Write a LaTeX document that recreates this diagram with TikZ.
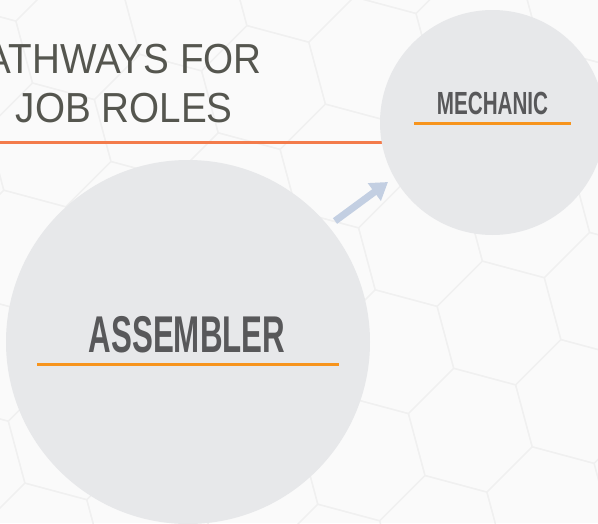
\documentclass[tikz,border=0pt]{standalone}
\usepackage{fontspec}
\setmainfont{Liberation Sans}
\newfontfamily\titlefont[FakeStretch=0.92]{Liberation Sans}
\newfontfamily\mechfont[FakeStretch=0.645]{Liberation Sans Bold}
\newfontfamily\asmfont[FakeStretch=0.605]{Liberation Sans Bold}
\usetikzlibrary{arrows.meta}
\definecolor{bgc}{HTML}{FAFAFA}
\definecolor{hexc}{HTML}{F0F0F0}
\definecolor{circc}{HTML}{E7E8EA}
\definecolor{txtc}{HTML}{58585A}
\definecolor{titc}{HTML}{55564F}
\definecolor{lineor}{HTML}{F37B4B}
\definecolor{undor}{HTML}{F7941D}
\definecolor{arrc}{HTML}{C3CFE2}
\begin{document}
\begin{tikzpicture}[x=1pt,y=-1pt,
  hexline/.style={draw=hexc, line width=1.2pt, line join=round},
  role/.style={circle, fill=circc, inner sep=0pt, outer sep=0pt},
  underline/.style={draw=undor, line width=3pt},
  titleline/.style={draw=lineor, line width=3pt},
  titletext/.style={anchor=base east, inner sep=0pt, text=titc, font=\titlefont\fontsize{42}{42}\selectfont},
  pathway/.style={draw=arrc, line width=7pt, -{Triangle[length=17pt,width=21pt]}}]
\useasboundingbox (0,0) rectangle (598,523);
\begin{scope}
  \clip (0,0) rectangle (598,523);
  \fill[bgc] (0,0) rectangle (598,523);
  \foreach \i in {-6,...,6}{
    \foreach \j in {-6,...,6}{
      \pgfmathsetmacro\cx{499+78.5*\i-28.7*\j}
      \pgfmathsetmacro\cy{323+78.5*\i+107.2*\j}
      \draw[hexline] ([shift={(\cx,\cy)}]15:64) -- ([shift={(\cx,\cy)}]75:64)
        -- ([shift={(\cx,\cy)}]135:64) -- ([shift={(\cx,\cy)}]195:64)
        -- ([shift={(\cx,\cy)}]255:64) -- ([shift={(\cx,\cy)}]315:64) -- cycle;
    }
  }
  % title
  \node[titletext] (t1) at (262,73) {ATHWAYS FOR};
  \node[titletext] (t2) at (233,122) {JOB ROLES};
  \coordinate (tl0) at (-5,142.5);
  \coordinate (tl1) at (400,142.5);
  \draw[titleline] (tl0) -- (tl1);
  % circles
  \node[role, minimum size=225pt] (mech) at (492.5,122.5) {};
  \node[role, minimum size=364pt] (asm) at (188,342) {};
  % labels
  \node[anchor=base, inner sep=0pt, text=txtc, font=\mechfont\fontsize{32}{32}\selectfont] (mechtxt) at (492.5,114) {MECHANIC};
  \draw[underline] (414,123) -- (571,123);
  \node[anchor=base, inner sep=0pt, text=txtc, font=\asmfont\fontsize{51.7}{52}\selectfont] (asmtxt) at (187,352) {ASSEMBLER};
  \draw[underline] (37,364) -- (339,364);
  % arrow
  \coordinate (atail) at (335,221);
  \coordinate (ahead) at (388,182);
  \draw[pathway] (atail) -- (ahead);
\end{scope}
\end{tikzpicture}
\end{document}
